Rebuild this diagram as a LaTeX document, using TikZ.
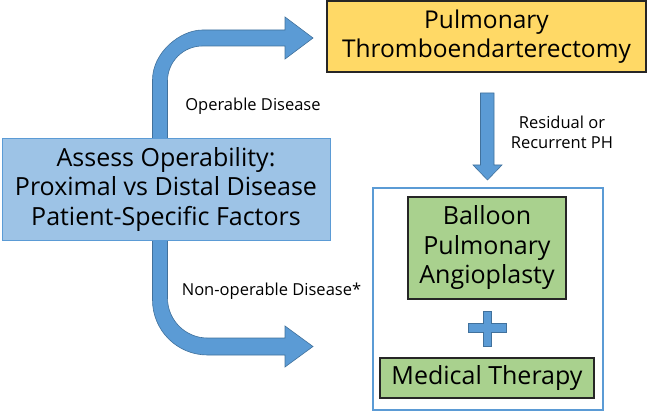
\documentclass[tikz,border=0pt]{standalone}
\usepackage{fontspec}
\setmainfont{Open Sans}
\definecolor{arrowblue}{HTML}{5B9BD5}
\definecolor{arrowedge}{HTML}{41719C}
\definecolor{boxblue}{HTML}{9DC3E6}
\definecolor{boxyellow}{HTML}{FFD966}
\definecolor{boxgreen}{HTML}{A9D18E}
\begin{document}
\begin{tikzpicture}[x=1pt,y=-1pt,
  bigtext/.style={font=\fontsize{25}{29.5}\selectfont, align=center},
  smalltext/.style={font=\fontsize{16.5}{20}\selectfont, align=center},
  blockarrow/.style={fill=arrowblue, draw=arrowedge, line width=0.6pt, line join=miter},
  boxbase/.style={inner sep=0pt, bigtext}]
\useasboundingbox (0,0) rectangle (649,412);
% block arrows
\draw[blockarrow] (152.5,139) -- (152.5,80) .. controls (152.5,52.4) and (180.1,30) .. (202.5,30)
  -- (285,30) -- (285,17) -- (313,38) -- (285,59) -- (285,46) -- (202.5,46)
  .. controls (183.2,46) and (167.5,61.7) .. (167.5,81) -- (167.5,139) -- cycle;
\draw[blockarrow] (152.5,240) -- (152.5,300) .. controls (152.5,330.4) and (177.1,355) .. (207.5,355)
  -- (285,355) -- (285,367) -- (313,346.5) -- (285,326) -- (285,338) -- (207.5,338)
  .. controls (185.4,338) and (167.5,320.1) .. (167.5,298) -- (167.5,240) -- cycle;
\draw[blockarrow] (480.5,93) -- (494,93) -- (494,165) -- (502,165) -- (487.5,180) -- (473,165) -- (480.5,165) -- cycle;
% nodes
\node[boxbase, draw=arrowblue, fill=boxblue, line width=1pt, minimum width=328pt, minimum height=101pt] (assess) at (166,189.5)
  {Assess Operability:\\Proximal vs Distal Disease\\Patient-Specific Factors};
\node[boxbase, draw=black!85, fill=boxyellow, line width=1.2pt, minimum width=319pt, minimum height=71pt, font=\fontsize{24.5}{29}\selectfont] (pte) at (486.5,36.5)
  {Pulmonary\\Thromboendarterectomy};
\node[draw=arrowblue, fill=white, line width=2.5pt, minimum width=230pt, minimum height=222pt, inner sep=0pt] (frame) at (488,299) {};
\node[boxbase, draw=black!85, fill=boxgreen, line width=1.2pt, minimum width=158pt, minimum height=102pt] (bpa) at (487,248)
  {Balloon\\Pulmonary\\Angioplasty};
\node[boxbase, draw=black!85, fill=boxgreen, line width=1.2pt, minimum width=214pt, minimum height=40pt] (med) at (487,378)
  {Medical Therapy};
\draw[blockarrow] (483,311) -- (491,311) -- (491,323) -- (506,323) -- (506,332) -- (491,332) -- (491,346) -- (483,346)
  -- (483,332) -- (468,332) -- (468,323) -- (483,323) -- cycle;
% labels
\node[smalltext] (oplab) at (253,106) {Operable Disease};
\node[smalltext] (nonoplab) at (271.5,291) {Non-operable Disease*};
\node[smalltext] (reslab) at (562,132) {Residual or\\Recurrent PH};
\end{tikzpicture}
\end{document}
